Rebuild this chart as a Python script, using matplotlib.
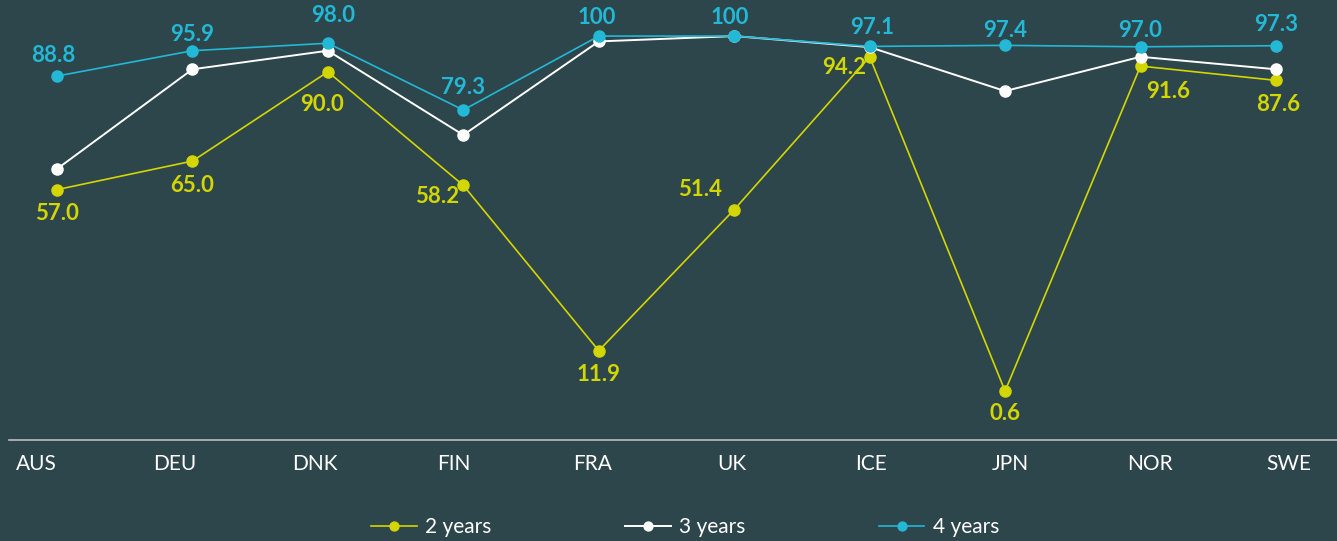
import matplotlib.pyplot as plt

# data
countries = ["AUS", "DEU", "DNK", "FIN", "FRA", "UK", "ICE", "JPN", "NOR", "SWE"]
two_years = [57.0, 65.0, 90.0, 58.2, 11.9, 51.4, 94.2, 0.6, 91.6, 87.6]
three_years = [62.8, 90.7, 95.9, 72.3, 98.5, 100, 96.9, 84.6, 94.2, 90.7]
four_years = [88.8, 95.9, 98.0, 79.3, 100, 100, 97.1, 97.4, 97.0, 97.3]

bg = "#2d464c"
yellow = "#d4d600"
cyan = "#22b8d6"
white = "#ffffff"

# label offsets in pixels (dx, dy)
off_two = [(0, -24), (0, -24), (-6, -33), (-26, -11), (0, -24),
           (-34, 20), (-26, -11), (0, -22), (28, -25), (2, -24)]
off_four = [(-4, 21), (0, 16), (5, 28), (0, 22), (-2, 19),
            (-4, 19), (2, 19), (0, 15), (0, 16), (0, 21)]

plt.rcParams["font.family"] = ["Lato", "DejaVu Sans"]

fig = plt.figure(figsize=(13.37, 5.41), dpi=100, facecolor=bg)
ax = fig.add_axes([9 / 1337, 1 - 440 / 541, 1 - 9 / 1337, 440 / 541])
ax.set_facecolor(bg)

# axis for the category labels
n = len(countries)
ax.set_xlim(-27 / 139.2, 1301 / 139.2)
ax.set_xticks(range(n))
ax.set_xticklabels(countries, color="white", fontsize=15)
ax.tick_params(axis="x", length=0, pad=10)
ax.set_yticks([])
for s in ["top", "left", "right"]:
    ax.spines[s].set_visible(False)
ax.spines["bottom"].set_color("#b7c0c2")
ax.spines["bottom"].set_linewidth(1.2)

# axis for the lines
lx = ax.twiny()
lx.set_xlim(-48 / 135.44, 1280 / 135.44)
lx.set_ylim(-13.1, 110.1)
lx.axis("off")

xs = list(range(n))
l2, = lx.plot(xs, two_years, color=yellow, lw=1.2, marker="o", ms=8, label="2 years", zorder=3)
l3, = lx.plot(xs, three_years, color=white, lw=1.4, marker="o", ms=8, label="3 years", zorder=4)
l4, = lx.plot(xs, four_years, color=cyan, lw=1.2, marker="o", ms=8, label="4 years", zorder=5)

for i in xs:
    v = two_years[i]
    lx.annotate(f"{v:.1f}", (i, v), xytext=off_two[i], textcoords="offset pixels",
                ha="center", va="center", color=yellow, fontsize=16, fontweight="bold")
    v = four_years[i]
    txt = "100" if v == 100 else f"{v:.1f}"
    lx.annotate(txt, (i, v), xytext=off_four[i], textcoords="offset pixels",
                ha="center", va="center", color=cyan, fontsize=16, fontweight="bold")

leg = fig.legend(handles=[l2, l3, l4], loc="center", bbox_to_anchor=(685 / 1337, 1 - 527 / 541),
                 ncol=3, frameon=False, fontsize=15, handlelength=2.2, handletextpad=0.4,
                 columnspacing=6.4, markerscale=0.8)
for t in leg.get_texts():
    t.set_color("white")

fig.savefig("out.png", dpi=100, facecolor=bg)
